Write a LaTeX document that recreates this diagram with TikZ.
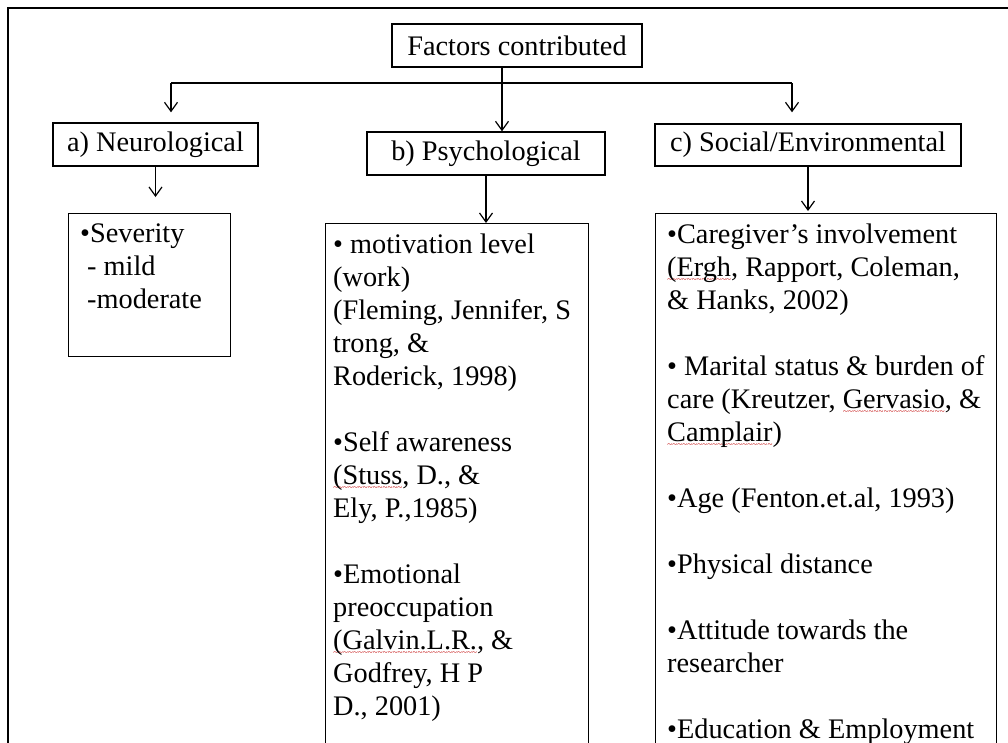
\documentclass[tikz,border=0pt]{standalone}
\usepackage{fontspec}
\setmainfont{Liberation Serif}
\usetikzlibrary{arrows.meta}

% red spell-check wave under a word
\newsavebox\spellbox
\newcommand\spell[1]{\sbox\spellbox{#1}\rlap{\textcolor{red!75!black}{\lower5.5pt\hbox to\wd\spellbox{\fontsize{9}{9}\selectfont\xleaders\hbox{\char"7E}\hfil}}}#1}
\newcommand\gap{\\[33pt]}

\begin{document}
\begin{tikzpicture}[x=1pt,y=-1pt,
  every node/.style={font=\fontsize{28.3}{33}\selectfont},
  box/.style={draw,line width=1.4pt,inner sep=0pt},
  listtext/.style={anchor=north west,align=left,inner xsep=12pt,inner ysep=11pt},
  arr/.style={line width=1.2pt,-{Straight Barb[length=9pt,width=13pt]}}]

\useasboundingbox (0,0) rectangle (1008,742);
\clip (0,0) rectangle (1008,742);
\draw[line width=2.2pt] (8,800) |- (1050,8);

\node[box,minimum width=250pt,minimum height=43pt] (factors) at (517,45.5) {Factors contributed};
\node[box,minimum width=205pt,minimum height=43pt] (neuro) at (155.5,144.5) {a) Neurological};
\node[box,minimum width=238pt,minimum height=43pt] (psycho) at (486,153.5) {b) Psychological};
\node[box,minimum width=306pt,minimum height=42pt] (social) at (808,145) {c) Social/Environmental};

\node[box,anchor=north west,minimum width=162pt,minimum height=143pt] (sevbox) at (68,213) {};
\node[box,anchor=north west,minimum width=263pt,minimum height=600pt] (psybox) at (325,223) {};
\node[box,anchor=north west,minimum width=341pt,minimum height=600pt] (socbox) at (655,213) {};

\node[listtext] (sevtext) at (sevbox.north west) {•Severity\\\hspace*{7pt}- mild\\\hspace*{7pt}-moderate};
\node[listtext,inner xsep=8pt] (psytext) at (psybox.north west) {• motivation level\\(work)\\(Fleming, Jennifer, S\\trong, \&\\Roderick, 1998)\gap
  •Self awareness\\\spell{(Stuss}, D., \&\\Ely, P.,1985)\gap
  •Emotional\\preoccupation\\\spell{(Galvin.L.R.}, \&\\Godfrey, H P\\D., 2001)};
\node[listtext] (soctext) at (socbox.north west) {•Caregiver’s involvement\\\spell{(Ergh}, Rapport, Coleman,\\\& Hanks, 2002)\gap
  • Marital status \& burden of\\care (Kreutzer, \spell{Gervasio}, \&\\\spell{Camplair})\gap
  •Age (Fenton.et.al, 1993)\gap
  •Physical distance\gap
  •Attitude towards the\\researcher\gap
  •Education \& Employment};

\coordinate (lbar) at (171,83);
\coordinate (rbar) at (792,83);
\coordinate (mid) at (502,83);
\draw[line width=1.2pt] (lbar) -- (rbar);
\draw[arr] (factors.south -| mid) -- (psycho.north -| mid);
\draw[arr,shorten >=10pt] (lbar) -- (lbar |- neuro.north);
\draw[arr,shorten >=11pt] (rbar) -- (rbar |- social.north);
\draw[arr,shorten >=16pt] (neuro.south) -- (neuro.south |- sevbox.north);
\draw[arr] (psycho.south) -- (psycho.south |- psybox.north);
\draw[arr,shorten >=2pt] (social.south) -- (social.south |- socbox.north);
\end{tikzpicture}
\end{document}
